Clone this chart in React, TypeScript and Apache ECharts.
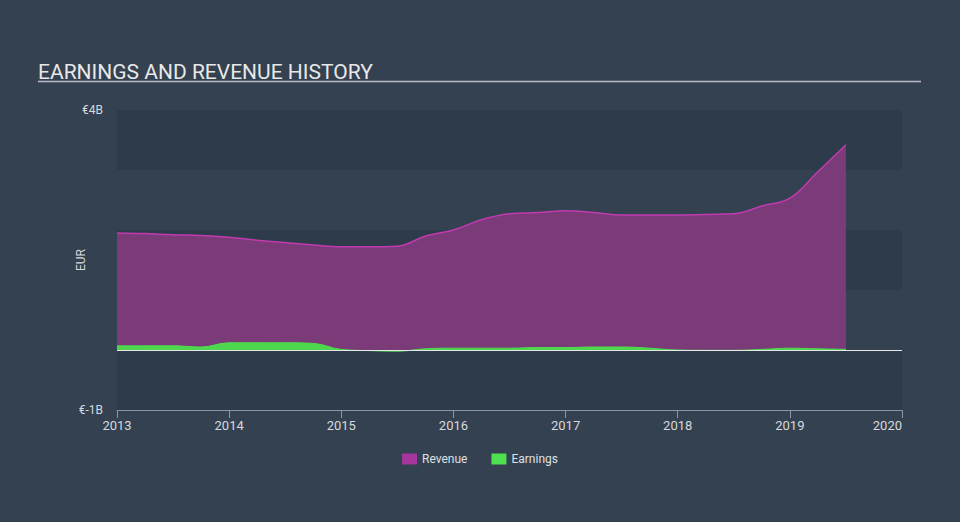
import React, { useEffect, useRef } from "react";
import * as echarts from "echarts";

const years = [2013, 2013.25, 2013.5, 2013.75, 2014, 2014.25, 2014.5, 2014.75, 2015, 2015.25, 2015.5, 2015.75, 2016, 2016.25, 2016.5, 2016.75, 2017, 2017.25, 2017.5, 2017.75, 2018, 2018.25, 2018.5, 2018.75, 2019, 2019.25, 2019.5];
const revenue = [1.95, 1.94, 1.92, 1.91, 1.88, 1.83, 1.79, 1.75, 1.72, 1.72, 1.73, 1.9, 2.0, 2.17, 2.27, 2.29, 2.32, 2.29, 2.25, 2.25, 2.25, 2.26, 2.27, 2.4, 2.53, 2.97, 3.42];
const earnings = [0.07, 0.07, 0.07, 0.05, 0.12, 0.12, 0.12, 0.11, 0.01, -0.01, -0.02, 0.02, 0.03, 0.03, 0.03, 0.04, 0.04, 0.05, 0.05, 0.03, 0.0, -0.005, -0.005, 0.01, 0.03, 0.02, 0.01];
const yTickLabels: Record<number, string> = { 4: "€4B", [-1]: "€-1B" };

export default function App() {
  const ref = useRef<HTMLDivElement>(null);
  useEffect(() => {
    if (!ref.current) return;
    const chart = echarts.init(ref.current, null, { renderer: "svg" });
    chart.setOption({
      animation: false,
      backgroundColor: "#344150",
      textStyle: { fontFamily: "Roboto" },
      title: {
        text: "EARNINGS AND REVENUE HISTORY",
        left: 33,
        top: 56,
        textStyle: { color: "#e8e8e8", fontSize: 21, fontWeight: "normal", fontFamily: "Roboto" },
      },
      graphic: [
        { type: "line", shape: { x1: 38, y1: 81.5, x2: 921, y2: 81.5 }, style: { stroke: "#b8bcc2", lineWidth: 1.5 } },
      ],
      legend: {
        bottom: 52,
        left: "center",
        itemWidth: 15,
        itemHeight: 11,
        itemGap: 24,
        icon: "rect",
        textStyle: { color: "#dde0e4", fontSize: 12 },
        data: [
          { name: "Revenue", itemStyle: { color: "#a5369c" } },
          { name: "Earnings", itemStyle: { color: "#4ee04e" } },
        ],
      },
      grid: { left: 117, right: 58, top: 110, bottom: 112 },
      xAxis: {
        type: "value",
        min: 2013,
        max: 2020,
        interval: 1,
        axisLine: { show: true, onZero: false, lineStyle: { color: "#8a96a3", width: 1 } },
        axisTick: { show: true, length: 8, lineStyle: { color: "#8a96a3" } },
        axisLabel: {
          color: "#d6d9dd",
          fontSize: 13,
          margin: 9,
          alignMaxLabel: "right",
          formatter: (v: number) => String(v),
        },
        splitLine: { show: false },
      },
      yAxis: {
        type: "value",
        min: -1,
        max: 4,
        interval: 1,
        name: "EUR",
        nameLocation: "middle",
        nameGap: 30,
        nameMoveOverlap: false,
        nameTextStyle: { color: "#d6d9dd", fontSize: 12 },
        axisLine: { show: false },
        axisTick: { show: false },
        axisLabel: {
          color: "#d6d9dd",
          fontSize: 12,
          margin: 14,
          formatter: (v: number) => yTickLabels[v] ?? "",
        },
        splitLine: { show: false },
        splitArea: { show: true, areaStyle: { color: ["#2e3b4a", "#344150"] } },
      },
      series: [
        {
          name: "Revenue",
          type: "line",
          smooth: 0.4,
          symbol: "none",
          data: years.map((y, i) => [y, revenue[i]]),
          lineStyle: { color: "#c03bb0", width: 1.5 },
          itemStyle: { color: "#a5369c" },
          areaStyle: { color: "#7b3a78", opacity: 1 },
          z: 2,
          markLine: {
            silent: true,
            symbol: "none",
            label: { show: false },
            lineStyle: { color: "#e4e6e8", width: 1, type: "solid" },
            data: [{ yAxis: 0 }],
          },
        },
        {
          name: "Earnings",
          type: "line",
          smooth: 0.4,
          symbol: "none",
          data: years.map((y, i) => [y, earnings[i]]),
          lineStyle: { color: "#4ee04e", width: 1 },
          itemStyle: { color: "#4ee04e" },
          areaStyle: { color: "#4ed64e", opacity: 1 },
          z: 3,
        },
      ],
    });
    return () => chart.dispose();
  }, []);
  return <div ref={ref} style={{ width: 960, height: 522, position: "fixed", left: 0, top: 0 }} />;
}
